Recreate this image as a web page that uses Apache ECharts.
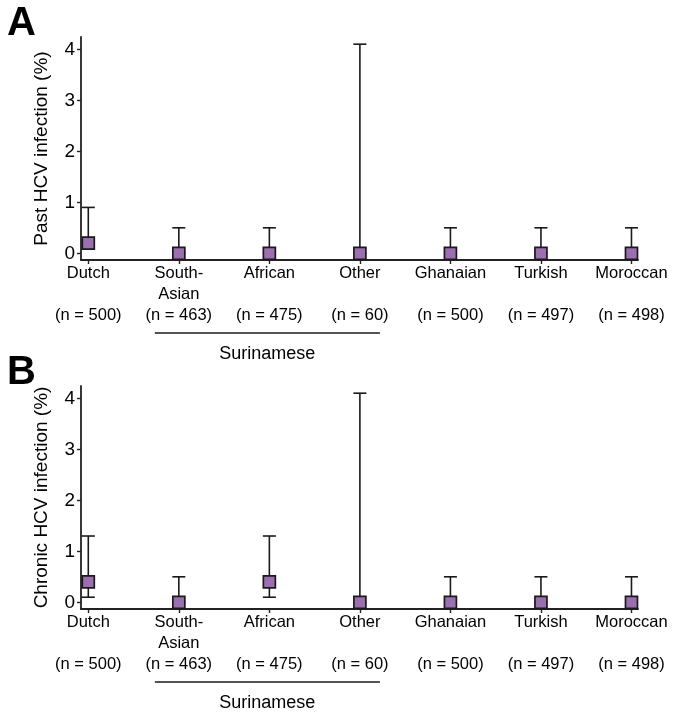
<!DOCTYPE html>
<html>
<head>
<meta charset="utf-8">
<script src="https://cdn.jsdelivr.net/npm/echarts@6/dist/echarts.min.js"></script>
<style>
html,body{margin:0;padding:0;background:#fff;}
#chart{width:694px;height:714px;}
</style>
</head>
<body>
<div id="chart"></div>
<script>
const categories = ['Dutch', 'South-\nAsian', 'African', 'Other', 'Ghanaian', 'Turkish', 'Moroccan'];
const sampleSizes = [500, 463, 475, 60, 500, 497, 498];
const pastEst  = [0.2, 0, 0, 0, 0, 0, 0];
const pastLow  = [0.1, 0, 0, 0, 0, 0, 0];
const pastHigh = [0.9, 0.5, 0.5, 4.1, 0.5, 0.5, 0.5];
const chronicEst  = [0.4, 0, 0.4, 0, 0, 0, 0];
const chronicLow  = [0.1, 0, 0.1, 0, 0, 0, 0];
const chronicHigh = [1.3, 0.5, 1.3, 4.1, 0.5, 0.5, 0.5];
const yTicks = [0, 1, 2, 3, 4];
const xPositions = categories.map((c, i) => i);
const groupLabel = 'Surinamese';
const yNames = ['Past HCV infection (%)', 'Chronic HCV infection (%)'];
const panelLetters = ['A', 'B'];

const FONT = 'Liberation Sans, Arial, Helvetica, sans-serif';
const INK = '#1a1a1a';
const chart = echarts.init(document.getElementById('chart'), null, {renderer: 'canvas'});

function catLabel(v) {
  const i = Math.round(v);
  const name = categories[i];
  const n = '(n = ' + sampleSizes[i] + ')';
  return name.indexOf('\n') >= 0 ? name + '\n' + n : name + '\n\n' + n;
}

const gridTops = [37, 386];
const grids = gridTops.map(t => ({left: 81, top: t, width: 557, height: 223, containLabel: false}));

const xAxes = gridTops.map((t, k) => ({
  type: 'value', gridIndex: k, min: -0.0806, max: 6.072,
  splitLine: {show: false},
  axisLine: {show: true, onZero: false, lineStyle: {color: '#222', width: 1.8}},
  axisTick: {show: true, customValues: xPositions, length: 4, inside: false, lineStyle: {color: '#222', width: 1.4}},
  axisLabel: {show: true, customValues: xPositions, formatter: catLabel, margin: 3,
    fontFamily: FONT, fontSize: 16.5, color: '#000', lineHeight: 21, verticalAlign: 'top'}
}));

const yAxes = gridTops.map((t, k) => ({
  type: 'value', gridIndex: k, min: -0.131, max: 4.241,
  splitLine: {show: false},
  axisLine: {show: true, onZero: false, lineStyle: {color: '#222', width: 1.8}},
  axisTick: {show: true, customValues: yTicks, length: 4, lineStyle: {color: '#222', width: 1.4}},
  axisLabel: {show: true, customValues: yTicks, margin: 6, fontFamily: FONT, fontSize: 19, color: '#000'},
  name: yNames[k], nameLocation: 'middle', nameRotate: 90, nameGap: 30,
  nameTextStyle: {fontFamily: FONT, fontSize: 19, color: '#000'}
}));

function errRender(params, api) {
  const x = api.value(0), lo = api.value(1), hi = api.value(2);
  const a = api.coord([x, lo]), b = api.coord([x, hi]);
  const hw = 6.5;
  const st = {stroke: INK, lineWidth: 1.6};
  return {type: 'group', children: [
    {type: 'line', shape: {x1: a[0], y1: a[1], x2: b[0], y2: b[1]}, style: st},
    {type: 'line', shape: {x1: b[0] - hw, y1: b[1], x2: b[0] + hw, y2: b[1]}, style: st},
    {type: 'line', shape: {x1: a[0] - hw, y1: a[1], x2: a[0] + hw, y2: a[1]}, style: st}
  ]};
}

const panels = [[pastEst, pastLow, pastHigh], [chronicEst, chronicLow, chronicHigh]];
const series = [];
panels.forEach((p, k) => {
  series.push({
    type: 'custom', xAxisIndex: k, yAxisIndex: k, renderItem: errRender, z: 2, clip: false,
    encode: {x: 0, y: [1, 2]},
    data: xPositions.map(i => [i, p[1][i], p[2][i]])
  });
  series.push({
    type: 'scatter', xAxisIndex: k, yAxisIndex: k, symbol: 'rect', symbolSize: 12, z: 5,
    itemStyle: {color: '#9b6fb0', borderColor: INK, borderWidth: 1.7, opacity: 1},
    data: xPositions.map(i => [i, p[0][i]])
  });
});

chart.setOption({
  animation: false,
  backgroundColor: '#fff',
  grid: grids, xAxis: xAxes, yAxis: yAxes, series: series
});

const graphics = [];
[0, 1].forEach(k => {
  const x1 = chart.convertToPixel({xAxisIndex: k}, 1) - 24;
  const x2 = chart.convertToPixel({xAxisIndex: k}, 3) + 20;
  const yLine = gridTops[k] + 223 + 73;
  graphics.push({type: 'line', shape: {x1: x1, y1: yLine, x2: x2, y2: yLine}, style: {stroke: INK, lineWidth: 1.4}});
  graphics.push({type: 'text', x: (x1 + x2) / 2, y: yLine + 21,
    style: {text: groupLabel, fontFamily: FONT, fontSize: 18, fill: '#000', align: 'center', verticalAlign: 'middle'}});
  graphics.push({type: 'text', x: 7, y: gridTops[k] - 13.5,
    style: {text: panelLetters[k], fontFamily: FONT, fontSize: 40, fontWeight: 'bold', fill: '#000', align: 'left', verticalAlign: 'middle'}});
});
chart.setOption({graphic: graphics});
</script>
</body>
</html>
